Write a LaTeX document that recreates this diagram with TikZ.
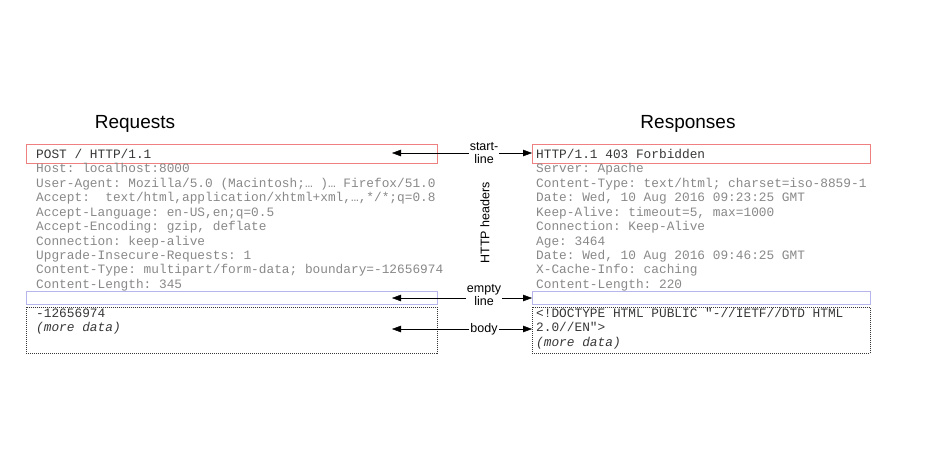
\documentclass[tikz,border=0pt]{standalone}
\usepackage{fontspec}
\setmainfont{Liberation Sans}
\setmonofont{Liberation Mono}
\usetikzlibrary{arrows.meta,positioning}
\definecolor{startcolor}{RGB}{238,128,128}
\definecolor{emptycolor}{RGB}{182,182,236}
\definecolor{hdrcolor}{RGB}{136,136,136}
\definecolor{darkcolor}{RGB}{55,55,55}

\begin{document}
\begin{tikzpicture}[%
    >={Triangle[length=9pt,width=6.5pt]}, % filled arrow heads
    x=1pt, y=-1pt,              % pixel grid, top to bottom
    ]
\tikzset{
  title/.style={font=\fontsize{19}{22}\selectfont, anchor=base},
  msg/.style={font=\fontsize{12.8}{14.45}\selectfont\ttfamily, align=left, anchor=north west, inner sep=0pt},
  lbl/.style={font=\fontsize{12.5}{13.5}\selectfont, align=center, inner sep=1pt},
  startbox/.style={draw=startcolor, line width=0.9pt, minimum width=411pt, minimum height=19pt, anchor=north west, inner sep=0pt},
  emptybox/.style={draw=emptycolor, line width=0.9pt, minimum width=411pt, minimum height=13pt, anchor=north west, inner sep=0pt},
  bodybox/.style={draw=darkcolor, dash pattern=on 1pt off 1pt, line width=0.7pt, minimum width=411pt, minimum height=46pt, anchor=north west, inner sep=0pt},
}
\useasboundingbox (0,0) rectangle (941,475);

% titles
\node [title] (reqtitle) at (135,128) {Requests};
\node [title] (restitle) at (688,128) {Responses};

% request side
\node [startbox] (reqstart) at (26,144) {};
\node [emptybox] (reqempty) at (26,291) {};
\node [bodybox] (reqbody) at (26,307) {};
\node [msg] (reqhead) at (36,148) {\strut\color{darkcolor}POST / HTTP/1.1\\
\color{hdrcolor}Host: localhost:8000\\
\color{hdrcolor}User-Agent: Mozilla/5.0 (Macintosh;… )… Firefox/51.0\\
\color{hdrcolor}Accept:~ text/html,application/xhtml+xml,…,*/*;q=0.8\\
\color{hdrcolor}Accept-Language: en-US,en;q=0.5\\
\color{hdrcolor}Accept-Encoding: gzip, deflate\\
\color{hdrcolor}Connection: keep-alive\\
\color{hdrcolor}Upgrade-Insecure-Requests: 1\\
\color{hdrcolor}Content-Type: multipart/form-data; boundary=-12656974\\
\color{hdrcolor}Content-Length: 345};
\node [msg] (reqdata) at (36,307) {\strut\color{darkcolor}-12656974\\
\color{darkcolor}\itshape (more data)};

% response side
\node [startbox, minimum width=338pt] (resstart) at (532,144) {};
\node [emptybox, minimum width=338pt] (resempty) at (532,291) {};
\node [bodybox, minimum width=338pt] (resbody) at (532,307) {};
\node [msg] (reshead) at (536,148) {\strut\color{darkcolor}HTTP/1.1 403 Forbidden\\
\color{hdrcolor}Server: Apache\\
\color{hdrcolor}Content-Type: text/html; charset=iso-8859-1\\
\color{hdrcolor}Date: Wed, 10 Aug 2016 09:23:25 GMT\\
\color{hdrcolor}Keep-Alive: timeout=5, max=1000\\
\color{hdrcolor}Connection: Keep-Alive\\
\color{hdrcolor}Age: 3464\\
\color{hdrcolor}Date: Wed, 10 Aug 2016 09:46:25 GMT\\
\color{hdrcolor}X-Cache-Info: caching\\
\color{hdrcolor}Content-Length: 220};
\node [msg] (resdata) at (536,307) {\strut\color{darkcolor}<!DOCTYPE HTML PUBLIC "-//IETF//DTD HTML\\
\color{darkcolor}2.0//EN">\\
\color{darkcolor}\itshape (more data)};

% middle labels
\node [lbl] (startlbl) at (484,153) {start-\\line};
\node [lbl, rotate=90] (hdrlbl) at (485,223) {HTTP headers};
\node [lbl] (emptylbl) at (484,295) {empty\\line};
\node [lbl] (bodylbl) at (484,329) {body};

\coordinate (reqstartend) at (392,153);
\coordinate (reqemptyend) at (392,298);
\coordinate (reqbodyend) at (392,329);

%connect
\draw [->] (startlbl.west |- reqstartend) -- (reqstartend);
\draw [->] (startlbl.east |- reqstartend) -- (resstart.west |- reqstartend);
\draw [->] (emptylbl.west |- reqemptyend) -- (reqemptyend);
\draw [->] (emptylbl.east |- reqemptyend) -- (resempty.west |- reqemptyend);
\draw [->] (bodylbl.west) -- (reqbodyend);
\draw [->] (bodylbl.east) -- (resbody.west |- reqbodyend);

\end{tikzpicture}
\end{document}
